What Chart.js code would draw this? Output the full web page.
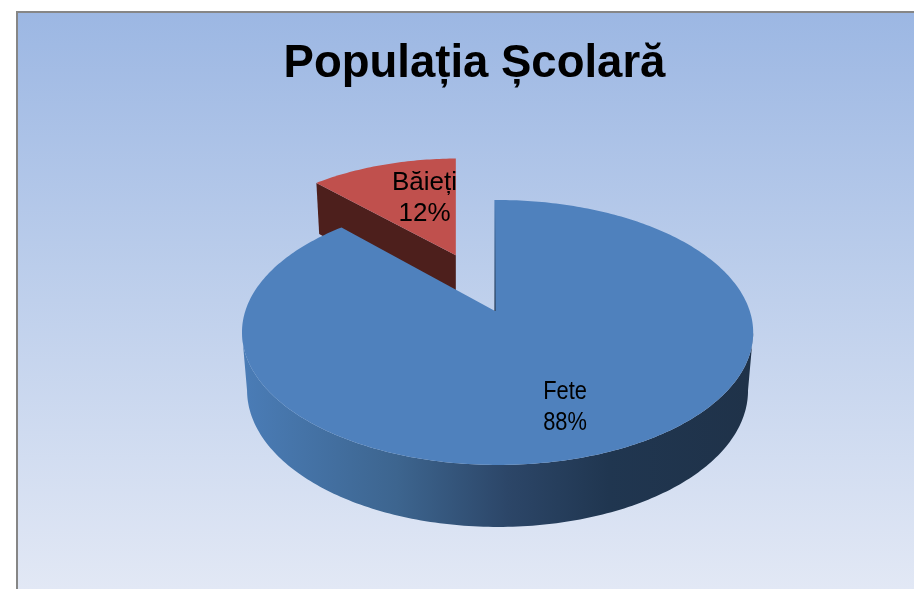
<!DOCTYPE html>
<html lang="ro">
<head>
<meta charset="utf-8">
<title>Populația Școlară</title>
<script src="https://cdn.jsdelivr.net/npm/chart.js@4"></script>
<style>
  html, body { margin: 0; padding: 0; background: #fff; }
  #box { width: 914px; height: 589px; }
</style>
</head>
<body>
<div id="box"><canvas id="grafic" width="914" height="589"></canvas></div>
<script>
const categorii = ["Fete", "Băieți"];
const valori = [88, 12];
const culori = ["#4f81bd", "#c0504d"];
const explodare = [0, 50]; // procent din raza

// perspectiva discului
const centruX = 495, centruY = 311;
const razaX = 252.2, razaY = 129;
const persp = 0.162, perspX = 0.01;

function proiectie(f, u, v) {
  // f = felia: dus = deplasare in pixeli pe x, strans = ingustare felie departata
  const w = 1 - persp * v - perspX * u;
  return { x: centruX + f.dus + razaX * (u - f.du) / (w * f.strans), y: centruY + razaY * v / w };
}
function jos(f, u, v) {
  const p = proiectie(f, u, v);
  const bazaX = centruX + f.dus;
  return { x: bazaX + (p.x - bazaX) * 0.98, y: p.y + 57 + 5 * v };
}

function contur(ctx, puncte) {
  ctx.beginPath();
  puncte.forEach((p, i) => i ? ctx.lineTo(p.x, p.y) : ctx.moveTo(p.x, p.y));
  ctx.closePath();
}

function desenFelie(ctx, el, i) {
  const a0 = el.startAngle, a1 = el.endAngle, mid = (a0 + a1) / 2;
  const off = el.options.offset / 100;
  const du = Math.cos(mid) * off, dv = Math.sin(mid) * off;
  const f = {
    du: du,
    dus: off ? razaX * du / (1 - persp * dv) + 4 : 0,
    strans: off ? 1.03 : 1
  };
  const rim = [];
  const pasi = Math.ceil((a1 - a0) * 60);
  for (let k = 0; k <= pasi; k++) {
    const a = a0 + (a1 - a0) * k / pasi;
    rim.push([du + Math.cos(a), dv + Math.sin(a)]);
  }
  const sus = rim.map(p => proiectie(f, p[0], p[1]));
  const vs = proiectie(f, du, dv), vj = jos(f, du, dv);

  if (i === 0) {
    // marginea din fata, de la un punct de tangenta la celalalt
    const g = ctx.createLinearGradient(245, 0, 750, 0);
    g.addColorStop(0, "#4a7cb6");
    g.addColorStop(0.3, "#3d658f");
    g.addColorStop(0.52, "#2c4668");
    g.addColorStop(0.72, "#203650");
    g.addColorStop(1, "#1f3249");
    const fata = rim.filter(p => p[1] >= 0.16);
    const fataSus = fata.map(p => proiectie(f, p[0], p[1]));
    const fataJos = fata.map(p => jos(f, p[0], p[1]));
    ctx.fillStyle = g;
    contur(ctx, fataSus.concat(fataJos.reverse()));
    ctx.fill();
  } else {
    // la felia scoasa se vede doar taietura din stanga
    ctx.fillStyle = "#4d1f1c";
    contur(ctx, [vs, sus[0], jos(f, rim[0][0], rim[0][1]), vj]);
    ctx.fill();
  }

  ctx.fillStyle = el.options.backgroundColor;
  contur(ctx, [vs].concat(sus));
  ctx.fill();

  if (i === 0) {
    // taietura de la ora 12, abia se vede
    const g2 = ctx.createLinearGradient(0, sus[0].y, 0, vs.y);
    g2.addColorStop(0, "#4f81bd");
    g2.addColorStop(1, "#24364e");
    ctx.strokeStyle = g2;
    ctx.lineWidth = 1.2;
    ctx.beginPath();
    ctx.moveTo(vs.x, vs.y);
    ctx.lineTo(sus[0].x, sus[0].y);
    ctx.stroke();
  }
}

const pie3d = {
  id: "pie3d",
  beforeDraw(chart) {
    const { ctx, width, height } = chart;
    const g = ctx.createLinearGradient(0, 12, 0, 589);
    g.addColorStop(0, "#9cb7e3");
    g.addColorStop(0.5, "#bfd0ec");
    g.addColorStop(1, "#e2e8f5");
    ctx.save();
    ctx.fillStyle = "#ffffff";
    ctx.fillRect(0, 0, width, height);
    ctx.fillStyle = "#868686";
    ctx.fillRect(16, 11, width - 16, height - 11);
    ctx.fillStyle = g;
    ctx.fillRect(18, 13, width - 18, height - 13);
    ctx.restore();
  },
  beforeDatasetsDraw(chart) {
    const { ctx } = chart;
    const arce = chart.getDatasetMeta(0).data;
    ctx.save();
    [1, 0].forEach(i => desenFelie(ctx, arce[i], i));
    ctx.restore();
    return false;
  },
  afterDraw(chart) {
    const { ctx } = chart;
    const total = valori.reduce((a, b) => a + b, 0);
    const poz = [[565, 399, 0.84], [424.5, 190, 1]];
    ctx.save();
    ctx.fillStyle = "#000000";
    ctx.font = "26px 'Liberation Sans'";
    ctx.textAlign = "center";
    categorii.forEach((c, i) => {
      const [x, y, sx] = poz[i];
      const pct = Math.round(valori[i] / total * 100) + "%";
      ctx.save();
      ctx.translate(x, y);
      ctx.scale(sx, 1);
      ctx.fillText(c, 0, 0);
      ctx.fillText(pct, 0, 31);
      ctx.restore();
    });
    ctx.restore();
  }
};

new Chart(document.getElementById("grafic"), {
  type: "pie",
  data: {
    labels: categorii,
    datasets: [{
      data: valori,
      backgroundColor: culori,
      offset: explodare,
      borderWidth: 0
    }]
  },
  options: {
    responsive: false,
    animation: false,
    layout: { padding: { left: 35, top: 37 } },
    events: [],
    plugins: {
      legend: { display: false },
      tooltip: { enabled: false },
      title: {
        display: true,
        text: "Populația Școlară",
        color: "#000000",
        font: { family: "'Liberation Sans'", size: 45.5, weight: "bold" },
        padding: 0
      }
    }
  },
  plugins: [pie3d]
});
</script>
</body>
</html>
